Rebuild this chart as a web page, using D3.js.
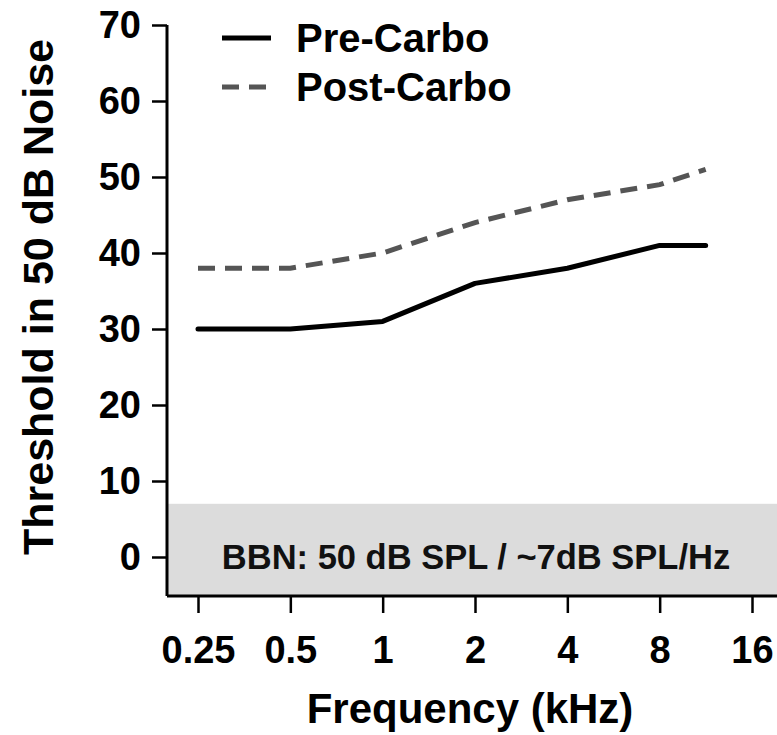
<!DOCTYPE html>
<html>
<head>
<meta charset="utf-8">
<script src="https://cdn.jsdelivr.net/npm/d3@7"></script>
<style>
  body { margin: 0; background: #fff; }
  svg { display: block; font-family: "Liberation Sans", Arial, sans-serif; font-weight: bold; }
</style>
</head>
<body>
<svg id="chart" width="777" height="735"></svg>
<script>
// data
const freqTicks = [0.25, 0.5, 1, 2, 4, 8, 16];
const freqLabels = ["0.25", "0.5", "1", "2", "4", "8", "16"];
const freqs = [0.25, 0.5, 1, 2, 4, 8, 11.3];
const preCarbo = [30, 30, 31, 36, 38, 41, 41];
const postCarbo = [38, 38, 40, 44, 47, 49, 51];
const yTicks = [0, 10, 20, 30, 40, 50, 60, 70];
const noiseFloor = 7;
const bandLabel = "BBN: 50 dB SPL / ~7dB SPL/Hz";

const svg = d3.select('#chart'),
    width = +svg.attr('width'),
    height = +svg.attr('height');

const plotLeft = 167, plotBottom = 596, plotRight = width;
const fontFam = "'Liberation Sans', Arial, sans-serif";

let xScale = d3.scaleLog().base(2)
    .domain([0.25, 16])
    .range([198, 752]);

let yScale = d3.scaleLinear()
    .domain([0, 70])
    .range([557, 25]);

// grey noise band
svg.append("rect")
    .attr("x", plotLeft)
    .attr("y", yScale(noiseFloor))
    .attr("width", plotRight - plotLeft)
    .attr("height", plotBottom - yScale(noiseFloor))
    .attr("fill", "#dcdcdc");

svg.append("text")
    .attr("x", 476)
    .attr("y", yScale(0))
    .attr("dy", "0.35em")
    .attr("text-anchor", "middle")
    .attr("font-size", 34.5)
    .attr("fill", "#111")
    .text(bandLabel);

// y axis
let yAxis = d3.axisLeft(yScale)
    .tickValues(yTicks)
    .tickSize(15)
    .tickPadding(11)
    .tickSizeOuter(0);

let gy = svg.append("g")
    .attr("transform", `translate(${plotLeft},0)`)
    .call(yAxis);
gy.select(".domain").remove();
gy.selectAll(".tick line").attr("stroke", "#000").attr("stroke-width", 2.5);
gy.selectAll(".tick text").attr("font-size", 38).attr("fill", "#000")
    .style("font-family", fontFam).style("font-weight", "bold");

svg.append("line")
    .attr("x1", plotLeft).attr("x2", plotLeft)
    .attr("y1", yScale(70)).attr("y2", plotBottom)
    .attr("stroke", "#000").attr("stroke-width", 3);

// x axis
let xAxis = d3.axisBottom(xScale)
    .tickValues(freqTicks)
    .tickFormat((d, i) => freqLabels[i])
    .tickSize(17)
    .tickPadding(23)
    .tickSizeOuter(0);

let gx = svg.append("g")
    .attr("transform", `translate(0,${plotBottom})`)
    .call(xAxis);
gx.select(".domain").remove();
gx.selectAll(".tick line").attr("stroke", "#000").attr("stroke-width", 2.5);
gx.selectAll(".tick text").attr("font-size", 38).attr("fill", "#000")
    .style("font-family", fontFam).style("font-weight", "bold");

svg.append("line")
    .attr("x1", plotLeft).attr("x2", plotRight)
    .attr("y1", plotBottom).attr("y2", plotBottom)
    .attr("stroke", "#000").attr("stroke-width", 3);

// axis titles
svg.append("text")
    .attr("x", 470)
    .attr("y", 708)
    .attr("dy", "0.35em")
    .attr("text-anchor", "middle")
    .attr("font-size", 42)
    .text("Frequency (kHz)");

svg.append("text")
    .attr("transform", `translate(38,297) rotate(-90)`)
    .attr("dy", "0.35em")
    .attr("text-anchor", "middle")
    .attr("font-size", 43)
    .text("Threshold in 50 dB Noise");

// lines
let line = d3.line()
    .x((d, i) => xScale(freqs[i]))
    .y(d => yScale(d));

svg.append("path")
    .datum(postCarbo)
    .attr("d", line)
    .attr("fill", "none")
    .attr("stroke", "#555")
    .attr("stroke-width", 5)
    .attr("stroke-dasharray", "17,10");

svg.append("path")
    .datum(preCarbo)
    .attr("d", line)
    .attr("fill", "none")
    .attr("stroke", "#000")
    .attr("stroke-width", 5)
    .attr("stroke-linejoin", "round")
    .attr("stroke-linecap", "round");

// legend
const legend = [
    {name: "Pre-Carbo", color: "#000", dash: null, y: 38},
    {name: "Post-Carbo", color: "#555", dash: "17,10", y: 87}
];
legend.forEach(function(l){
    svg.append("line")
        .attr("x1", 222).attr("x2", 271)
        .attr("y1", l.y).attr("y2", l.y)
        .attr("stroke", l.color)
        .attr("stroke-width", 5)
        .attr("stroke-dasharray", l.dash);
    svg.append("text")
        .attr("x", 296).attr("y", l.y)
        .attr("dy", "0.35em")
        .attr("font-size", 40)
        .text(l.name);
});
</script>
</body>
</html>
